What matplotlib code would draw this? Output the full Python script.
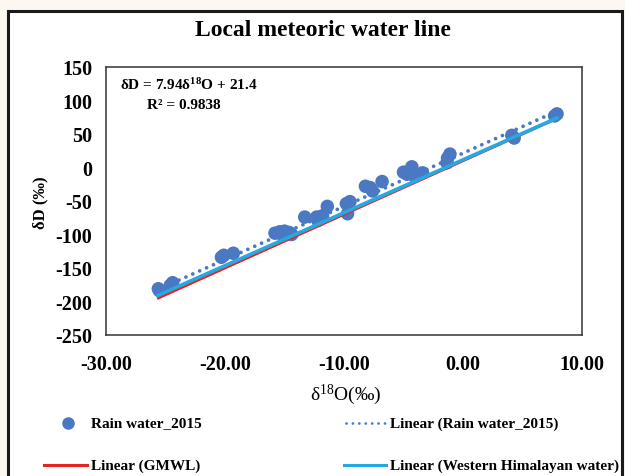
import matplotlib
matplotlib.use("Agg")
import matplotlib.pyplot as plt
from matplotlib.lines import Line2D
from matplotlib.patches import Rectangle
import numpy as np

plt.rcParams["font.family"] = ["Liberation Serif", "DejaVu Serif"]
plt.rcParams["mathtext.default"] = "regular"

# Rain water isotope samples (2015)
d18O = [-25.6, -25.5, -24.4, -24.6, -20.3, -20.1, -19.3,
        -15.8, -15.4, -15.0, -14.6, -14.4, -15.2,
        -13.3, -12.3, -11.8, -12.2, -11.4,
        -9.7, -9.5, -9.8, -8.2, -7.6, -7.8, -6.8,
        -5.0, -4.7, -4.3, -4.4, -4.1, -3.4,
        -1.35, -1.1, -1.3, 4.1, 4.3, 7.9, 7.7]
dD = [-181, -184, -172, -176, -134, -131, -128,
      -98, -96, -95, -97, -100, -100,
      -74, -74, -72, -79, -58,
      -69, -51, -54, -28, -35, -30, -21,
      -7, -10, 1, -4, -12, -8,
      7, 20, 14, 48, 44, 80, 77]

# Regression lines: (slope, intercept)
lmwl = (7.94, 21.4)
gmwl = (8.0, 10.0)
whw = (7.9, 11.5)

x_ticks = [-30, -20, -10, 0, 10]
y_ticks = [-250, -200, -150, -100, -50, 0, 50, 100, 150]

W, H = 625, 477
fig = plt.figure(figsize=(W / 100, H / 100), dpi=100)
fig.patch.set_facecolor("#fcf7f0")

def fx(px):
    return px / W

def fy(py):
    return 1 - py / H

# white panel with dark frame
fig.add_artist(Rectangle((fx(8), fy(490)), fx(622) - fx(8), fy(12) - fy(490),
                         transform=fig.transFigure, facecolor="white",
                         edgecolor="#1a1a1a", linewidth=2.2, zorder=0))

ax = fig.add_axes([fx(106), fy(336), fx(582) - fx(106), fy(68) - fy(336)])
ax.set_facecolor("white")

blue = "#4a78c2"
red = "#e52420"
cyan = "#26a9e0"

xs = np.array([min(d18O), max(d18O)])
ax.plot(xs, gmwl[0] * xs + gmwl[1], color=red, lw=2.0, zorder=3)
ax.plot(xs, whw[0] * xs + whw[1], color=cyan, lw=2.6, zorder=4)
ax.scatter(d18O, dD, s=95, color=blue, edgecolors="none", zorder=2)
ax.plot(xs, lmwl[0] * xs + lmwl[1], color=blue, lw=2.7,
        linestyle=(0, (0.01, 2.0)), dash_capstyle="round", zorder=5)

ax.set_xlim(-30, 10)
ax.set_ylim(-250, 150)
ax.set_xticks(x_ticks)
ax.set_yticks(y_ticks)
ax.set_xticklabels([f"{v:.2f}" for v in x_ticks])
ax.set_yticklabels([str(v) for v in y_ticks])
ax.tick_params(length=0, labelsize=14.5, pad=14)
ax.tick_params(axis="y", pad=10)
for lab in ax.get_xticklabels() + ax.get_yticklabels():
    lab.set_fontweight("bold")
for sp in ax.spines.values():
    sp.set_color("#333333")
    sp.set_linewidth(1.1)

ax.text(0.03, 0.935, "δD = 7.94δ$^{18}$O + 21.4", transform=ax.transAxes,
        fontsize=11, fontweight="bold", va="center", ha="left")
ax.text(0.087, 0.86, "R² = 0.9838", transform=ax.transAxes,
        fontsize=11, fontweight="bold", va="center", ha="left")

fig.text(fx(323), fy(30), "Local meteoric water line", fontsize=17,
         fontweight="bold", ha="center", va="center")
fig.text(fx(40), fy(203), "δD (‰)", fontsize=12, fontweight="bold",
         rotation=90, ha="center", va="center")
fig.text(fx(346), fy(395), "δ$^{18}$O(‰)", fontsize=14,
         ha="center", va="center")

# legend
leg_fs = 11
fig.add_artist(Line2D([fx(68)], [fy(424)], marker="o", markersize=8,
                      color=blue, linestyle="none", transform=fig.transFigure))
fig.text(fx(91), fy(424), "Rain water_2015", fontsize=leg_fs,
         fontweight="bold", va="center")
fig.add_artist(Line2D([fx(346), fx(385)], [fy(424), fy(424)], color=blue,
                      lw=2.0, linestyle=(0, (0.01, 2.3)),
                      dash_capstyle="round", transform=fig.transFigure))
fig.text(fx(390), fy(424), "Linear (Rain water_2015)", fontsize=leg_fs,
         fontweight="bold", va="center")
fig.add_artist(Line2D([fx(44), fx(87)], [fy(466), fy(466)], color=red,
                      lw=2.2, transform=fig.transFigure))
fig.text(fx(91), fy(466), "Linear (GMWL)", fontsize=leg_fs,
         fontweight="bold", va="center")
fig.add_artist(Line2D([fx(344), fx(386)], [fy(466), fy(466)], color=cyan,
                      lw=2.2, transform=fig.transFigure))
fig.text(fx(390), fy(466), "Linear (Western Himalayan water)",
         fontsize=leg_fs, fontweight="bold", va="center")

fig.savefig("out.png", dpi=100, facecolor=fig.get_facecolor())
